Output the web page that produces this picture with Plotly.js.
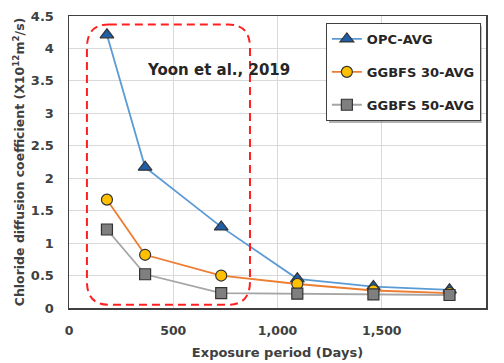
<!DOCTYPE html>
<html>
<head>
<meta charset="utf-8">
<script src="https://cdn.plot.ly/plotly-3.0.1.min.js"></script>
<style>
  html, body { margin: 0; padding: 0; background: #fff; }
  #chart { width: 504px; height: 363px; }
</style>
</head>
<body>
<div id="chart"></div>
<script>
// Exposure period in days
const days = [182, 365, 730, 1095, 1460, 1825];
// Chloride diffusion coefficient (x10^-12 m2/s), averaged per mix
const opcAvg = [4.21, 2.17, 1.25, 0.45, 0.33, 0.28];
const ggbfs30Avg = [1.67, 0.82, 0.50, 0.37, 0.27, 0.23];
const ggbfs50Avg = [1.21, 0.52, 0.23, 0.22, 0.21, 0.20];
const seriesNames = ['OPC-AVG', 'GGBFS 30-AVG', 'GGBFS 50-AVG'];
const xTicks = [0, 500, 1000, 1500, 2000];
const yTicks = [0, 0.5, 1, 1.5, 2, 2.5, 3, 3.5, 4, 4.5];
const noteText = 'Yoon et al., 2019';

const FONT = 'DejaVu Sans, Verdana, sans-serif';
const INK = '#404040';
const CLEAR = 'rgba(0,0,0,0)';

function series(name, y, lineColor, symbol, fill, size) {
  return {
    x: days, y: y, name: name, type: 'scatter', mode: 'lines+markers',
    legendgroup: name,
    line: { color: lineColor, width: 1.8 },
    marker: { symbol: symbol, color: fill, size: size, line: { color: '#333', width: 1.2 } }
  };
}

const traces = [
  series(seriesNames[0], opcAvg, '#5B9BD5', 'triangle-up', '#1F5FAA', 12),
  series(seriesNames[1], ggbfs30Avg, '#ED7D31', 'circle', '#FFC000', 11),
  series(seriesNames[2], ggbfs50Avg, '#A5A5A5', 'square', '#7F7F7F', 11)
];

// Dashed rounded box around the early-age data (data units)
const box = { x0: 86, x1: 868, y0: 0.05, y1: 4.37, rx: 105, ry: 0.36 };
function roundedRectPath(b) {
  return [
    'M', b.x0 + b.rx, b.y1,
    'L', b.x1 - b.rx, b.y1,
    'Q', b.x1, b.y1, b.x1, b.y1 - b.ry,
    'L', b.x1, b.y0 + b.ry,
    'Q', b.x1, b.y0, b.x1 - b.rx, b.y0,
    'L', b.x0 + b.rx, b.y0,
    'Q', b.x0, b.y0, b.x0, b.y0 + b.ry,
    'L', b.x0, b.y1 - b.ry,
    'Q', b.x0, b.y1, b.x0 + b.rx, b.y1, 'Z'
  ].join(' ');
}

const layout = {
  width: 504, height: 363,
  margin: { l: 69, r: 18, t: 16, b: 55 },
  paper_bgcolor: '#fff', plot_bgcolor: '#fff',
  font: { family: FONT, color: INK, size: 13 },
  showlegend: true,
  legend: {
    x: 0.616, y: 0.976, xanchor: 'left', yanchor: 'top',
    bgcolor: '#fff', bordercolor: '#404040', borderwidth: 1,
    traceorder: 'grouped', tracegroupgap: 13,
    font: { family: FONT, size: 13, color: '#262626', weight: 'bold' },
    itemwidth: 30
  },
  xaxis: {
    range: [0, 2000], tickvals: xTicks, tickformat: ',',
    showgrid: true, gridcolor: '#D9D9D9', gridwidth: 1,
    zeroline: false, showline: true, linecolor: '#404040', linewidth: 1.5, mirror: true,
    ticks: 'outside', ticklen: 10, tickcolor: CLEAR,
    tickfont: { family: FONT, size: 12.5, color: INK, weight: 'bold' },
    title: { text: 'Exposure period (Days)', standoff: 11,
             font: { family: FONT, size: 13, color: INK, weight: 'bold' } }
  },
  yaxis: {
    range: [0, 4.5], tickvals: yTicks,
    showgrid: true, gridcolor: '#D9D9D9', gridwidth: 1,
    zeroline: false, showline: true, linecolor: '#404040', linewidth: 1.5, mirror: true,
    ticks: 'outside', ticklen: 11, tickcolor: CLEAR,
    tickfont: { family: FONT, size: 13, color: INK, weight: 'bold' },
    title: { text: 'Chloride diffusion coefficient (X10<sup>12</sup>m<sup>2</sup>/s)', standoff: 3,
             font: { family: FONT, size: 12.5, color: INK, weight: 'bold' } }
  },
  shapes: [
    { type: 'path', xref: 'x', yref: 'y', path: roundedRectPath(box),
      line: { color: '#FF1F1F', width: 2, dash: '8px,5px' }, layer: 'above' },
    // soft shadow behind the legend box
    { type: 'rect', xref: 'paper', yref: 'paper', x0: 0.6235, x1: 0.990, y0: 0.6336, y1: 0.9658,
      fillcolor: 'rgba(0,0,0,0.3)', line: { width: 0 }, layer: 'above' }
  ],
  annotations: [
    { text: noteText, xref: 'x', yref: 'y', x: 715, y: 3.67, showarrow: false,
      font: { family: FONT, size: 15, color: '#262626', weight: 'bold' } }
  ]
};

Plotly.newPlot('chart', traces, layout, { displayModeBar: false, staticPlot: true });
</script>
</body>
</html>
